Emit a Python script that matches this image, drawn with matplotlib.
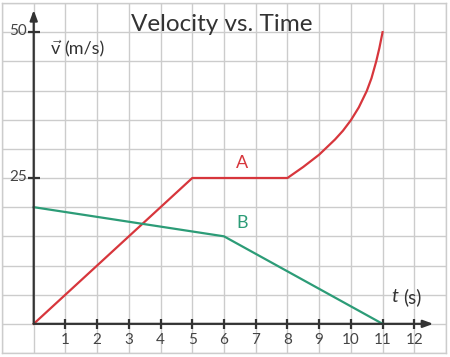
import matplotlib
matplotlib.use("Agg")
import matplotlib.pyplot as plt
import numpy as np

# Data
a_t = [0, 5, 8, 8.5, 9, 9.5, 9.75, 10, 10.25, 10.5, 10.65, 10.8, 10.9, 11]
a_v = [0, 25, 25, 26.9, 29.0, 31.6, 33.1, 34.9, 37.1, 39.9, 42.1, 45.0, 47.3, 50]
b_t = [0, 6, 11]
b_v = [20, 15, 0]
x_ticks = list(range(1, 13))
y_ticks = [25, 50]
title = "Velocity vs. Time"

red = "#d7363c"
green = "#2c9c77"
axis_col = "#333333"
grid_col = "#cccccc"

plt.rcParams['font.family'] = ['Lato', 'DejaVu Sans']
plt.rcParams['mathtext.fontset'] = 'custom'
plt.rcParams['mathtext.rm'] = 'Lato'
plt.rcParams['mathtext.it'] = 'Lato:italic'

fig = plt.figure(figsize=(4.5, 3.57), dpi=100)
ax = fig.add_axes([2/450, 4/357, 444/450, 350/357])
ax.set_xlim(-1, 13)
ax.set_ylim(-5, 55)
ax.set_xticks(np.arange(-1, 14, 1))
ax.set_yticks(np.arange(-5, 56, 5))
ax.grid(True, color=grid_col, lw=1)
ax.tick_params(length=0, labelbottom=False, labelleft=False)
for s in ax.spines.values():
    s.set_color(grid_col)
    s.set_linewidth(1)
ax.set_axisbelow(True)

# axes arrows
ax.annotate('', xy=(12.6, 0), xytext=(0, 0),
            arrowprops=dict(arrowstyle='-|>,head_length=0.6,head_width=0.22', color=axis_col, lw=1.6, shrinkA=0, shrinkB=0))
ax.annotate('', xy=(0, 53.8), xytext=(0, 0),
            arrowprops=dict(arrowstyle='-|>,head_length=0.6,head_width=0.22', color=axis_col, lw=1.6, shrinkA=0, shrinkB=0))

# tick marks and labels
ax.plot(x_ticks, [0]*len(x_ticks), ls='none', marker='|', ms=7, mew=1.6, color=axis_col)
ax.plot([0]*len(y_ticks), y_ticks, ls='none', marker='_', ms=8, mew=1.6, color=axis_col)
for t in x_ticks:
    ax.text(t, -2.7, str(t), ha='center', va='center', fontsize=11, color='#444444')
for v in y_ticks:
    ax.text(-0.22, v + 0.2, str(v), ha='right', va='center', fontsize=11, color='#444444')

# data
ax.plot(a_t, a_v, color=red, lw=1.6, solid_joinstyle='round')
ax.plot(b_t, b_v, color=green, lw=1.6)

ax.text(6.56, 27.6, "A", color=red, fontsize=13, ha='center', va='center')
ax.text(6.56, 17.3, "B", color=green, fontsize=13, ha='center', va='center')

ax.text(5.93, 51.3, title, fontsize=17.5, ha='center', va='center', color=axis_col)
ax.text(0.5, 47.2, r"$\vec{\mathrm{v}}$", fontsize=13, ha='left', va='center', color=axis_col)
ax.text(0.95, 47.0, "(m/s)", fontsize=13, ha='left', va='center', color=axis_col)
ax.text(11.39, 4.6, r"$t$", fontsize=14, ha='center', va='center', color=axis_col)
ax.text(11.95, 4.6, "(s)", fontsize=13.5, ha='center', va='center', color=axis_col)

fig.savefig("out.png", dpi=100)
